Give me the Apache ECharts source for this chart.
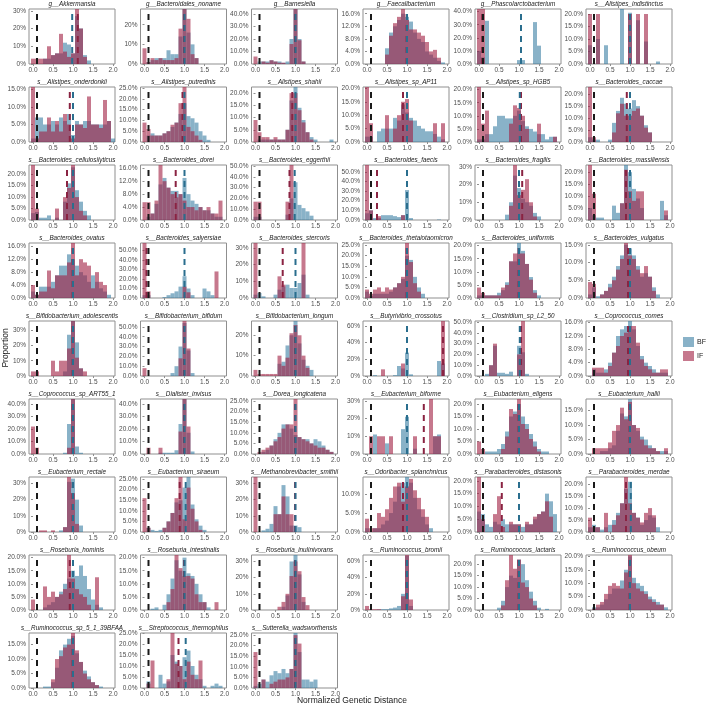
<!DOCTYPE html>
<html>
<head>
<meta charset="utf-8">
<script src="https://cdn.jsdelivr.net/npm/echarts@6/dist/echarts.min.js"></script>
<style>
  html, body { margin: 0; padding: 0; background: #fff; }
  #chart { width: 706px; height: 705px; }
</style>
</head>
<body>
<div id="chart"></div>
<script>
/* 面板标题 */
const panelTitles = [
  'g__Akkermansia', 'g__Bacteroidales_noname', 'g__Barnesiella', 'g__Faecalibacterium', 'g__Phascolarctobacterium', 's__Alistipes_indistinctus',
  's__Alistipes_onderdonkii', 's__Alistipes_putredinis', 's__Alistipes_shahii', 's__Alistipes_sp_AP11', 's__Alistipes_sp_HGB5', 's__Bacteroides_caccae',
  's__Bacteroides_cellulosilyticus', 's__Bacteroides_dorei', 's__Bacteroides_eggerthii', 's__Bacteroides_faecis', 's__Bacteroides_fragilis', 's__Bacteroides_massiliensis',
  's__Bacteroides_ovatus', 's__Bacteroides_salyersiae', 's__Bacteroides_stercoris', 's__Bacteroides_thetaiotaomicron', 's__Bacteroides_uniformis', 's__Bacteroides_vulgatus',
  's__Bifidobacterium_adolescentis', 's__Bifidobacterium_bifidum', 's__Bifidobacterium_longum', 's__Butyrivibrio_crossotus', 's__Clostridium_sp_L2_50', 's__Coprococcus_comes',
  's__Coprococcus_sp_ART55_1', 's__Dialister_invisus', 's__Dorea_longicatena', 's__Eubacterium_biforme', 's__Eubacterium_eligens', 's__Eubacterium_hallii',
  's__Eubacterium_rectale', 's__Eubacterium_siraeum', 's__Methanobrevibacter_smithii', 's__Odoribacter_splanchnicus', 's__Parabacteroides_distasonis', 's__Parabacteroides_merdae',
  's__Roseburia_hominis', 's__Roseburia_intestinalis', 's__Roseburia_inulinivorans', 's__Ruminococcus_bromii', 's__Ruminococcus_lactaris', 's__Ruminococcus_obeum',
  's__Ruminococcus_sp_5_1_39BFAA', 's__Streptococcus_thermophilus', 's__Sutterella_wadsworthensis'
];

/* 直方图的组中心 */
const binCenters = [0, 0.1, 0.2, 0.3, 0.4, 0.5, 0.6, 0.7, 0.8, 0.9, 1.0, 1.1, 1.2, 1.3, 1.4, 1.5, 1.6, 1.7, 1.8, 1.9, 2.0];

/* BF 比例 (%) */
const bfHist = [
  [0,0,0,3,3,5,6,6,12,11,6,27,20,5,2,0,0,0,0,0,0],
  [0,1,2,3,3,3,7,5,5,14,28,16,10,3,0,0,0,0,0,0,0],
  [0,2,2,2,3,2,2,1,2,20,44,20,2,0,0,0,0,0,0,0,0],
  [0,0,0,0,0,5,10,12,14,16,15,13.5,10,8,7,4,3,2,1,0.5,0],
  [10,5,33,0,0,0,0,0,0,0,3,3,0,0,32,14,0,0,0,0,0],
  [7.5,0,10,0,7.5,0,0,0,22,0,20.5,0,17.5,0,9,0,0,1,0,0,0],
  [1,7,7,5,5,6,5,7,6,8,2,6,5,6,6,5,5,5,5,6,1],
  [0,3,4,3,3,4,5,7,9,13,18,12,11,9,5,3,1,0,0,0,0],
  [0,1,1,1,1,1,1,1,5,17,22.5,14,9,4,2,1,0,0,0,1,0],
  [2,2,0,4,5,5,5,9,8,14,11,9,8,6,5,4,4,3,2,1,0],
  [1,1,3,3,6,10,10,9,9,10,12,8,6,5,4,3,3,1,2,2,0],
  [2,1,1,0,0,1,8,13,18.5,16,14,17.5,15,11,7,4,0,0,0,0,0],
  [3,3.5,1,1,2,0,1,0,8,16,23,13,8,4,2,0,0,0,0,0,0],
  [0,1,2,5,11,13,10,9,9,8,13,8,6,5,4,3,3,2,1,1,0],
  [3,3,0,0,0,0,0,0,5,20,35,14,11,8,4,0,0,0,0,0,0],
  [7,10,2,2,5,5,5,4,3,5,31,2,0,0,0,0,0,0,0.5,0,0],
  [0,0,0,0,0,0,0,3,10,25,18,12,10,8,4,2,0,0,0,0,0],
  [5,2,1,1,0,0,6,3,7,23,20,13,9,5,0,0,0,0,8,2,0],
  [2,1,3.5,3.5,3.5,5,7,10,10,13.5,12,10,8,7,5,7,5,3,2,1,0],
  [3,3,0,0,0,1,3,5,7,12,23,10,3,0,0,10,7,3,0,0,0],
  [2,3,1,0,0,2,5,7,8,6,6,9,14,2,0,0,0,0,0,0,0],
  [3,1,2,2,2,2,3,5,7,9,20,18,10,5,2,0,0,0,0,0,0],
  [1,1,1,1,1,2,3,6,14,14,21,18,13,8,3,1,0,0,0,0,0],
  [1,3,0.5,1,2,4,6,9,12,15,14,12,9,6,7,6,3,1,0,0,0],
  [0,0,0,0,0,0,0,0,3,27,36,22,5,0,0,0,0,0,0,0,0],
  [0,0,0,0,0,0,0,3,10,30,54,26,3,0,0,0,0,0,0,0,0],
  [0,0,0,0,0,0,6,7,15,20,27,16,8,5,3,0,0,0,0,0,0],
  [0,0,1,0,0,0,0,1,12,9,28,2,0,0,0,0,0,0,18,15,0],
  [0,0,2,10,28,3,3,2,4,0,28,22,2,0,0,0,0,0,0,0,0],
  [0,2,1,1,2,4,7,12,14,15,16.5,14,9,6,4,3,2,1,1,1,0],
  [0,0,0,0,0,0,0,0,1,24,44,6,1,0,0,0,0,0,0,0,0],
  [0,0,0,0,1,1,1,1,3,24,44,17,2,0,0,0,0,0,0,0,0],
  [0,0,1,2,4,7,10,14,14,12,9,8,7,7,5,7,6,4,2,1,0],
  [0,0,11,0,0,6,0,0,0,14,21,0,3,0,0,0,0,10,11,0,0],
  [0,0,1,1,1,2,4,9,15,17,20,15,12,8,5,2,1,1,0,0,0],
  [0,0,0,1,1,2,3,8,14,13,19,10,8,6,5,3,2,1,1,1,0],
  [0,0,0,0,0,0,0,1,3,31,33,20,4,0,0,0,0,0,0,0,0],
  [0,2,1,0.5,1,2,5,9,14,15,21,26,13,6,3,1,0,0,0,0,0],
  [0,0,1,2,5,16,11,29,22,4,4,3,0,0,0,0,0,0,0,0,0],
  [1,0,1,1,2,3,5,8,12,13,14.5,13,9,6,4,2,1,0,0,0,0],
  [8,7,3,2,4,3,5,3,3,3,3,2,3,3,5,7,8,15,12,7,0],
  [2,3,2,1,2,3,5,8,12,18,21,8,6,3,5,7,6,2,0,0,0],
  [0,0,0,1,2,3,5,7,10,12,15,13,17,13,8,4,2,1,0,0,0],
  [0,0,0.5,1,0,2,6,12,19,15,20,14,13,10,6,3,1,0,0,0,0],
  [0,0,0,0,0,0,0,2,9,30,34,22,5,0,0,0,0,0,0,0,0],
  [0,0,0,0.5,1,1,2,3,5,20,67,5,0,0,0,0,0,0,0,0,0],
  [0,0,0,0,0,1,4,10,15,14,22,20,13,8,4,1,0,0.5,0,0,0],
  [0,1,1,2,4,6,8,8,11,15,20,12,10,9,7,5,4,3,2,1,0],
  [0,0,0,0.5,0.5,2,7,13,15,17,18,12,9,6,4,2,1,0.5,0,0,0],
  [0,3,0,0,6,2,3,15,12,10,14,17,10,6,4,1,0,1,2,1,0],
  [1,2,4,3,6,8,7,9,7,9,26,17,4,4,3,4,0,0,0,0,0]
];

/* IF 比例 (%) */
const ifHist = [
  [3,3,3,3,10,5,6,17,7,4,6,31,20,4,0,0,0,0,0,0,0],
  [8,1,3,2,3,2,2,2,3,18,28,23,5,3,0,0,0,0,0,0,0],
  [6,0,2,1,3,2,1,1,0,16,44,19,2,0,0,0,0,0,0,0,0],
  [0,0,0,0,0,3,9,13,15,17.5,14,11,11,10,9,7,4,4.5,2,0,0],
  [42,42,0,0,0,0,0,0,0,0,0,0,0,0,0,0,0,0,0,0,0],
  [20,0,20,0,0,0,0,0,0,0,20,0,20,0,20,0,0,0,0,0,0],
  [15.7,1,3,3,7,3,6,3,8,5,1,5,5,4,13,5,5,4,12,6,0],
  [9,6,3,3,3,4,5,8,9,18,25.5,7,5,3,1,0,0,0,0,0,0],
  [9,4,2,2,1,2,1,1,5,20,20,13,8,4,1,0,0,0,0,0,0],
  [20.5,7,0,0,0,10,0,5,10,15,16,8,0,0,0,0,0,7,0,7,0],
  [21,7,12,0,0,0,0,0,7,14,13,10,5,0,0,7,0,0,0,2,0],
  [23,2,0,0,0,0,4,12,16,11,11,13,14,11,6,4,0,0,0,0,0],
  [24,5,0,0,0,0,5,0,10,14,24,10,4,2,0,0,0,0,0,0,0],
  [5.5,5.5,2,6,17,12,10,8,7,8,6,4,4,3,4,3,4,2,2,6,0],
  [17,17,0,0,0,0,0,0,17,51,0,0,0,0,0,0,0,0,0,0,0],
  [57,10,0,4,0,0,0,0,0,5,0,0,0,0,0,0,0,0,0,0,0],
  [0,0,0,0,0,0,0,0,8,31,14,17,23,10,2,0,0,0,0,0,0],
  [23,11,0,0,0,0,0,0,7,21,12,8,12,12,0,0,0,0,0,4,0],
  [4,1,2,2,8.5,3,7,7,7,11,17,7,12,11,10,3,8,5,4,0,0],
  [58,7,0,0,0,0,0,0,0,0,12,6,0,0,0,0,0,0,28,0,0],
  [33,0,0,0,0,0,13,8,0,0,0,0,33,0,0,0,0,0,0,0,0],
  [4,2,4,5,3,5,4,5,7,10,26,17,7,3,0,0,0,0,0,0,0],
  [4,2,1,1,1,1,4,5,14,17,17,17,13,7,2,0,0,0,0,0,0],
  [4.5,4,0,1,2,3,5,8,11,15.5,12,11,8,7,9,6,2,0,0,0,0],
  [3,3,0,0,0,10,3,10,10,18,36,12,5,3,0,0,0,0,0,0,0],
  [8,0,0,0,0,0,0,0,0,18,56,28,0,0,0,0,0,0,0,0,0],
  [3,1,1,1,1,1,10,5,9,21,25,20,10,4,0,0,0,0,0,0,0],
  [0,0,0,0,8,0,0,0,0,15,0,0,0,0,0,0,0,0,0,66,0],
  [0,0,0,10,30,0,0,0,0,0,20,51,0,0,0,0,0,0,0,0,0],
  [0,2.5,2.5,2.5,1,3,7,9,12,13,15,15,10,5,3,2,1,1,2,2,0],
  [22,5,0,0,0,0,0,0,0,5,44,0,0,0,0,0,0,0,0,0,0],
  [0,5,0,0,5,0,0,0,0,18,44,22,0,0,0,0,0,0,0,0,0],
  [0,1,2,3,4,6,8,12,14,14,26,8,7,6,5,4,3,3,2,1,0],
  [0,10,0,10,10,0,10,0,0,0,0,0,10,0,0,0,31,10,10,0,0],
  [5,2,0,0,0,0,2,7,18,16,22,12,10,6,3,1,0,0,0,0,0],
  [0,2,2,2,2,4,8,10,16,12,18,10,9,5,3,2,2,1,0,2,0],
  [0,0,1,1,0,1,0,0,3,34,24,5,0,0,0,0,0,0,0,0,0],
  [16,2,0,0,0,2,5,9,16,26,6,21,11,5,1,0,0,0,0,0,0],
  [34,0,0,0,0,11,11,22,11,11,0,0,0,0,0,0,0,0,0,0,0],
  [3.5,1,1,5,4,6,9,12,13,8,12,14,11,9,6,4,0,0,0,0,0],
  [21.5,5,0,0,7,14,2,0,4,3,3,0,4,3,6,7,8,12,6,0,0],
  [6,2,2,0,8,0,3,7,12,23,12,8,6,4,8,10,7,0,0,0,0],
  [4,0,0,9,5,7,5,6,8,21,12,8,6,5,2,0,12.5,0,0,0,0],
  [0,0,0,0,0,0,3,8,21,16,13,13,12,6,3,3,0,0,3,0,0],
  [0,0,0,0,0,0,2,5,10,21,30,24,8,3,0,0,0,0,0,0,0],
  [5,1,1,1,0,0,0,0,0,17,68,13,0,0,0,0,0,0,0,0,0],
  [0,0,0,0,0,0,2,13,24,18,22,12,10,5,2,0,0,0,0,0,0],
  [0,0.5,2,3,6,9,10,9,8,14,20.5,10,8,7,6,4,3,2,2,0,0],
  [0,0,0,0,0,3,10,11,14,15,19,13,9,5,3,2,1,0,0,0,0],
  [0,2,12.5,0,0,0,4,25,11,10,4,12,6,4,12.5,0,0,0,0,0,0],
  [17,0,4,0,2,3,4,4,5,9,25,21,0,0,0,0,0,0,0,0,0]
];

/* 均值虚线位置 */
const bfMean = [0.98,1.0,1.0,1.0,1.05,1.0, 1.0,1.0,1.0,1.0,1.02,1.0, 1.0,1.0,0.98,1.0,1.0,1.0, 1.0,1.0,1.0,1.0,1.0,1.0,
  1.0,1.0,1.0,1.0,1.02,1.0, 1.0,1.0,1.0,1.0,1.0,1.0, 1.0,1.03,1.0,1.0,1.0,1.02, 1.0,1.0,1.0,1.0,1.0,1.0, 1.0,1.03,1.0];
const ifMean = [1.12,0.99,0.99,0.99,0.08,0.99, 0.92,0.95,0.92,0.9,1.05,0.92, 0.85,0.78,0.85,0.25,1.08,0.9, 0.99,0.05,0.68,0.99,0.99,0.95,
  0.99,0.99,0.99,1.9,1.05,0.95, 0.99,0.99,0.99,1.42,0.99,0.99, 0.99,0.88,0.99,0.9,0.57,0.9, 0.92,0.99,0.99,0.99,0.99,0.99, 0.99,0.85,0.99];
const cutoff = 0.1;

/* y 轴刻度间隔与小数位 */
const yStep = [10,10,10,4,10,5, 5,5,5,5,5,5, 5,4,10,10,10,5, 4,10,10,5,5,5, 10,10,10,20,10,4, 10,10,5,10,5,5, 10,5,10,5,5,5, 5,5,10,20,5,5, 5,5,5];
const yDecimals = [0,0,1,1,1,1, 1,1,1,1,1,1, 1,1,1,1,0,1, 1,1,0,1,1,1, 0,1,0,0,1,1, 1,1,1,0,1,1, 0,1,0,1,1,1, 1,1,0,0,1,1, 1,1,1];
const xTicks = [0, 0.5, 1, 1.5, 2];

const FONT = '"Liberation Sans", Arial, sans-serif';
const BF_FILL = 'rgba(40,115,155,0.55)';
const IF_FILL = 'rgba(160,30,65,0.6)';

const chart = echarts.init(document.getElementById('chart'));

const colLeft = [29, 140.5, 251.5, 363, 475, 586];
const panelW = 86, panelH = 55;

const grids = [], xAxes = [], yAxes = [], series = [], graphics = [];

function barItem(fill) {
  return function (params, api) {
    const v = api.value(1);
    if (!v) return null;
    const a = api.coord([api.value(0) - 0.05, v]);
    const b = api.coord([api.value(0) + 0.05, 0]);
    return {
      type: 'rect',
      shape: { x: a[0], y: a[1], width: b[0] - a[0], height: b[1] - a[1] },
      style: { fill: fill }
    };
  };
}

function meanLine(i, x, yMax, color, name) {
  return {
    type: 'line', xAxisIndex: i, yAxisIndex: i, name: name,
    data: [[x, 0], [x, yMax]],
    symbol: 'none', silent: true,
    lineStyle: { color: color, width: 2, type: [6, 5] }
  };
}

panelTitles.forEach((title, i) => {
  const r = Math.floor(i / 6), c = i % 6;
  const left = colLeft[c], top = 9 + r * 78;
  const yMax = Math.max(...bfHist[i], ...ifHist[i]);
  const yTicks = [];
  for (let v = 0; v <= yMax + 1e-9; v += yStep[i]) yTicks.push(v);

  grids.push({ left: left, top: top, width: panelW, height: panelH, show: true, borderColor: '#8f8f8f', borderWidth: 1, backgroundColor: '#fff' });
  xAxes.push({
    type: 'value', gridIndex: i, min: -0.1, max: 2.05,
    axisLine: { show: false }, splitLine: { show: false },
    axisTick: { customValues: xTicks, length: 2, lineStyle: { color: '#8f8f8f' } },
    axisLabel: { customValues: xTicks, formatter: v => v.toFixed(1), fontSize: 6.5, color: '#4d4d4d', margin: 3, fontFamily: FONT }
  });
  yAxes.push({
    type: 'value', gridIndex: i, min: 0, max: yMax,
    axisLine: { show: false }, splitLine: { show: false },
    axisTick: { show: true, customValues: yTicks, length: 2, lineStyle: { color: '#8f8f8f' } },
    axisLabel: { customValues: yTicks, formatter: v => v.toFixed(yDecimals[i]) + '%', fontSize: 6.5, color: '#4d4d4d', margin: 3, fontFamily: FONT }
  });

  series.push({
    type: 'custom', name: 'BF', xAxisIndex: i, yAxisIndex: i, clip: true,
    itemStyle: { color: BF_FILL },
    renderItem: barItem(BF_FILL),
    data: binCenters.map((x, j) => [x, bfHist[i][j]])
  });
  series.push({
    type: 'custom', name: 'IF', xAxisIndex: i, yAxisIndex: i, clip: true,
    itemStyle: { color: IF_FILL },
    renderItem: barItem(IF_FILL),
    data: binCenters.map((x, j) => [x, ifHist[i][j]])
  });
  series.push(meanLine(i, ifMean[i], yMax, '#8a2342', 'ifMean'));
  series.push(meanLine(i, bfMean[i], yMax, '#2a6e8e', 'bfMean'));
  series.push(meanLine(i, cutoff, yMax, '#1a1a1a', 'cutoff'));

  graphics.push({
    type: 'text', x: left + panelW / 2, y: top - 1.5,
    style: { text: title, textAlign: 'center', textVerticalAlign: 'bottom', font: 'italic 6.3px ' + FONT, fill: '#1a1a1a' }
  });
});

graphics.push({
  type: 'text', x: 352, y: 701,
  style: { text: 'Normalized Genetic Distance', textAlign: 'center', textVerticalAlign: 'middle', font: '8.5px ' + FONT, fill: '#1a1a1a' }
});
graphics.push({
  type: 'text', x: 6, y: 348, rotation: Math.PI / 2,
  style: { text: 'Proportion', textAlign: 'center', textVerticalAlign: 'middle', font: '8.5px ' + FONT, fill: '#1a1a1a' }
});

chart.setOption({
  animation: false,
  backgroundColor: '#fff',
  grid: grids,
  xAxis: xAxes,
  yAxis: yAxes,
  series: series,
  legend: {
    data: ['BF', 'IF'], orient: 'vertical', left: 683, top: 337,
    itemWidth: 11, itemHeight: 10, itemGap: 4, padding: 0, icon: 'rect',
    textStyle: { fontSize: 7, color: '#1a1a1a', fontFamily: FONT, padding: [0, 0, 0, -2] }
  },
  graphic: graphics
});
</script>
</body>
</html>
